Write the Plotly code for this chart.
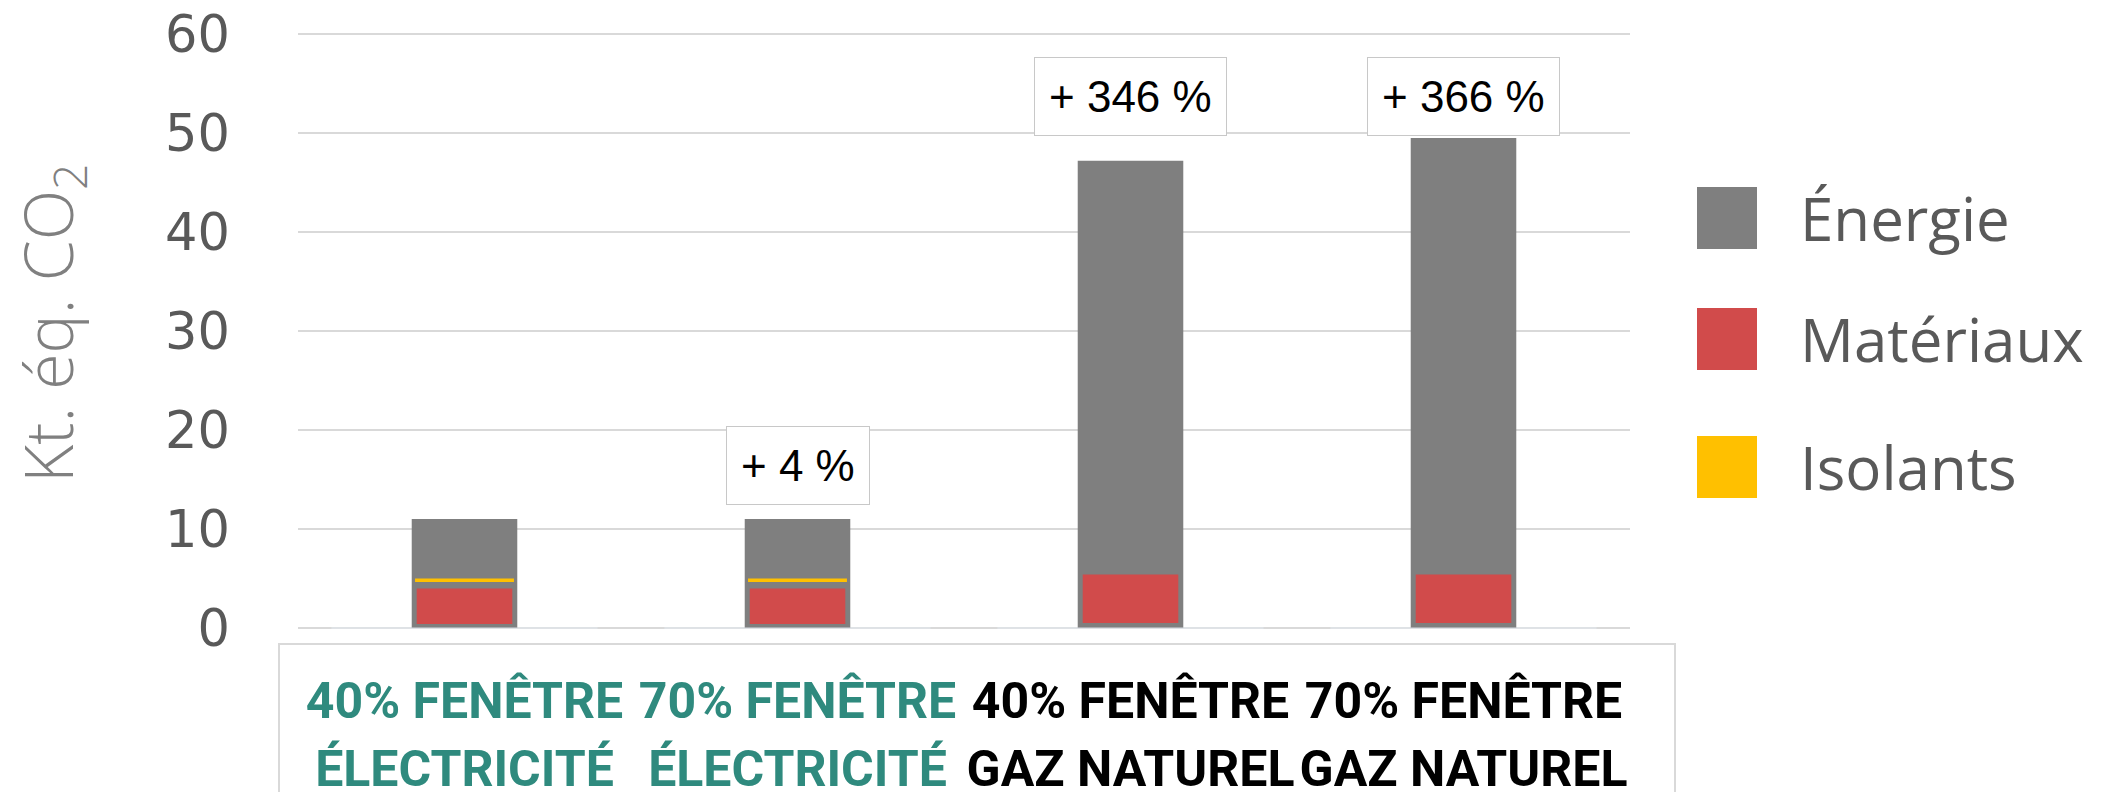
import plotly.graph_objects as go

# data
line1 = ["40% FENÊTRE", "70% FENÊTRE", "40% FENÊTRE", "70% FENÊTRE"]
line2 = ["ÉLECTRICITÉ", "ÉLECTRICITÉ", "GAZ NATUREL", "GAZ NATUREL"]
label_colors = ["#2f8a7e", "#2f8a7e", "#000000", "#000000"]
energie_total = [11.0, 11.0, 47.2, 49.5]
materiaux_base = [0.4, 0.4, 0.5, 0.5]
materiaux = [3.6, 3.6, 4.9, 4.9]
isolants_base = [4.65, 4.65, 0, 0]
isolants = [0.35, 0.35, 0, 0]
labels = ["", "+ 4 %", "+ 346 %", "+ 366 %"]
label_y = [0, 16.4, 53.7, 53.7]
yticks = [0, 10, 20, 30, 40, 50, 60]

series = ["Énergie", "Matériaux", "Isolants"]
colors = ["#7f7f7f", "#d14b4b", "#ffc000"]

x = list(range(len(line1)))

# page body has an 8px margin; plot box in figure pixels
L, T, W, H = 290, 24, 1332, 598


def px2x(px):
    return (px - 8 - L) / W


def py2y(py):
    return (T + H - (py - 8)) / H


fig = go.Figure()
fig.add_trace(go.Bar(x=x, y=energie_total, name=series[0], width=0.317,
                     marker=dict(color=colors[0], line=dict(width=0))))
fig.add_trace(go.Bar(x=x, y=materiaux, base=materiaux_base, name=series[1], width=0.287,
                     marker=dict(color=colors[1], line=dict(width=0))))
fig.add_trace(go.Bar(x=x, y=isolants, base=isolants_base, name=series[2], width=0.297,
                     marker=dict(color=colors[2], line=dict(width=0))))
# invisible trace to carry the second label row
fig.add_trace(go.Bar(x=x, y=[0] * len(x), xaxis="x2", showlegend=False,
                     hoverinfo="skip", marker=dict(color="rgba(0,0,0,0)")))

# percentage boxes
for i in range(len(labels)):
    if labels[i] == "":
        continue
    fig.add_annotation(x=x[i], y=label_y[i], text=labels[i], showarrow=False,
                       font=dict(family="Liberation Sans, Arial", size=44, color="black"),
                       bgcolor="white", bordercolor="#c8c8c8", borderwidth=1,
                       borderpad=14)

tick1 = ["<b><span style='color:%s'>%s</span></b>" % (c, t) for t, c in zip(line1, label_colors)]
tick2 = ["<b><span style='color:%s'>%s</span></b>" % (c, t) for t, c in zip(line2, label_colors)]

# box around the category labels
fig.add_shape(type="rect", xref="paper", yref="paper", x0=px2x(279), x1=px2x(1675),
              y0=py2y(644), y1=-0.4, line=dict(color="#d9d9d9", width=2),
              fillcolor="rgba(0,0,0,0)", layer="below")

# hand made legend
leg_y = [218, 339, 467]
for name, col, py in zip(series, colors, leg_y):
    fig.add_shape(type="rect", xref="paper", yref="paper",
                  x0=px2x(1697), x1=px2x(1757),
                  y0=py2y(py + 31), y1=py2y(py - 31),
                  fillcolor=col, line=dict(width=0))
    fig.add_annotation(xref="paper", yref="paper", x=px2x(1798), y=py2y(py),
                       xanchor="left", yanchor="middle", text=name, showarrow=False,
                       font=dict(family="Open Sans", size=60, color="#595959"))

# y title
fig.add_annotation(xref="paper", yref="paper", x=px2x(51), y=py2y(323),
                   xanchor="center", yanchor="middle",
                   text="Kt. éq. CO<sub>2</sub>", textangle=-90, showarrow=False,
                   font=dict(family="Open Sans", size=66, color="#808080", weight=300))

xfont = dict(family="Roboto", size=50)
fig.update_layout(
    width=2113, height=792,
    barmode="overlay",
    showlegend=False,
    plot_bgcolor="white", paper_bgcolor="white",
    margin=dict(l=L, r=2113 - L - W, t=T, b=792 - T - H),
    xaxis=dict(range=[-0.5, 3.5], tickvals=x, ticktext=tick1, tickangle=0,
               automargin=False, tickfont=xfont,
               showgrid=False, zeroline=False, showline=False, ticks="",
               ticklabelstandoff=37, ticklabeloverflow="allow"),
    xaxis2=dict(range=[-0.5, 3.5], tickvals=x, ticktext=tick2, tickangle=0,
                overlaying="x", side="bottom", anchor="y",
                automargin=False, tickfont=xfont,
                showgrid=False, zeroline=False, showline=False, ticks="",
                ticklabelstandoff=105, ticklabeloverflow="allow"),
    yaxis=dict(range=[-0.2, 60.2], tickvals=yticks, showgrid=True, gridcolor="#d9d9d9",
               gridwidth=2, zeroline=False, showline=False, ticks="",
               automargin=False, ticklabeloverflow="allow",
               tickfont=dict(family="DejaVu Sans", size=51, color="#595959"),
               ticklabelstandoff=67),
)

fig.write_html("out.html")
